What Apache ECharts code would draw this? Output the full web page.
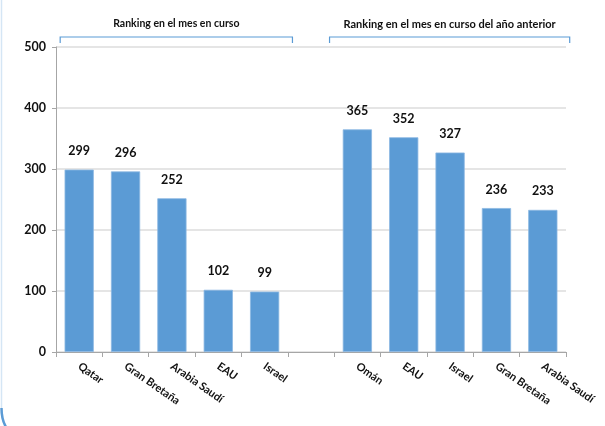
<!DOCTYPE html>
<html><head><meta charset="utf-8">
<script src="https://cdn.jsdelivr.net/npm/echarts@6/dist/echarts.min.js"></script>
<style>html,body{margin:0;padding:0;background:#fff}#c{width:605px;height:426px}</style>
</head><body><div id="c"></div>
<script>
const categories = ['Qatar','Gran Bretaña','Arabia Saudí','EAU','Israel','','Omán','EAU','Israel','Gran Bretaña','Arabia Saudí'];
const values = [299,296,252,102,99,null,365,352,327,236,233];
const groupTitles = ['Ranking en el mes en curso','Ranking en el mes en curso del año anterior'];
const yTicks = [0,100,200,300,400,500];

const FONT = 'Lato, "Open Sans", sans-serif';
const chart = echarts.init(document.getElementById('c'), null, {renderer:'canvas'});
chart.setOption({
  animation:false,
  backgroundColor:'#fff',
  grid:{left:56,right:39,top:47,bottom:74,containLabel:false},
  xAxis:{type:'category',data:categories,
    axisLine:{lineStyle:{color:'#a6a6a6',width:1}},
    axisTick:{show:true,length:5,lineStyle:{color:'#a6a6a6'}},
    axisLabel:{interval:0,rotate:-35,fontFamily:FONT,fontWeight:'bold',fontSize:11,color:'#111',margin:13}
  },
  yAxis:{type:'value',min:yTicks[0],max:yTicks[yTicks.length-1],interval:100,
    axisLine:{show:true,lineStyle:{color:'#a6a6a6'}},
    axisTick:{show:true,length:4,lineStyle:{color:'#a6a6a6'}},
    splitLine:{lineStyle:{color:'#dcdcdc',width:1.5}},
    axisLabel:{fontFamily:FONT,fontWeight:'bold',fontSize:12.5,color:'#111',margin:10}
  },
  series:[{type:'bar',data:values,barCategoryGap:'37%',
    itemStyle:{color:'#5b9bd5',borderColor:'#8cb8e2',borderWidth:0.8},
    label:{show:true,position:'top',distance:12,fontFamily:FONT,fontWeight:'bold',fontSize:12.5,color:'#111'}
  }]
});

const c0 = chart.convertToPixel({xAxisIndex:0},0);
const slot = chart.convertToPixel({xAxisIndex:0},1)-c0;
const groups = [[c0-slot*0.41, c0+slot*4.6],[c0+slot*5.4, c0+slot*10.58]];
const yB = 37;
const g = [];
groups.forEach((gr,k)=>{
  g.push({type:'polyline',shape:{points:[[gr[0],yB+6],[gr[0],yB],[gr[1],yB],[gr[1],yB+6]]},
    style:{stroke:'#5b9bd5',lineWidth:1.2,fill:null}});
  g.push({type:'text',x:(gr[0]+gr[1])/2,y:24,style:{text:groupTitles[k],fontFamily:FONT,fontWeight:'bold',fontSize:k?11:10.5,fill:'#111',align:'center',verticalAlign:'middle'}});
});
g.push({type:'line',shape:{x1:1.5,y1:0,x2:1.5,y2:408},style:{stroke:'#d5e6f5',lineWidth:1.5}});
g.push({type:'bezierCurve',shape:{x1:1.5,y1:408,cpx1:1.5,cpy1:424,x2:10,y2:432},style:{stroke:'#5b9bd5',lineWidth:2.5,fill:null}});
chart.setOption({graphic:g});
</script></body></html>
